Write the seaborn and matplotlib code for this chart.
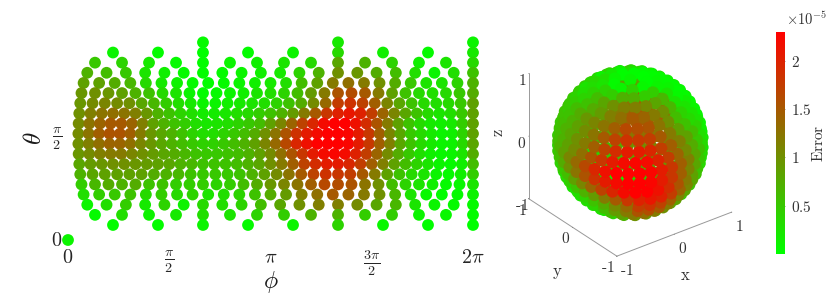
#!/usr/bin/env python
"""Interpolation error on a sphere, flat (phi, theta) view and 3D view."""

import matplotlib.pyplot as plt
import numpy as np
import pandas as pd
import seaborn as sns
from matplotlib.cm import ScalarMappable
from matplotlib.colors import LinearSegmentedColormap, Normalize

# ring latitudes, top of the flat plot first
ring_theta = [3.065, 2.907, 2.750, 2.593, 2.435, 2.278, 2.121, 1.963, 1.806, 1.649,
              1.491, 1.334, 1.177, 1.019, 0.862, 0.705, 0.547, 0.390, 0.233]

# longitudes, one list per ring size
phi_3 = [2.094, 4.189, 6.283]
phi_9 = [.698, 1.396, 2.094, 2.793, 3.491, 4.189, 4.887, 5.585, 6.283]
phi_15 = [.419, .838, 1.257, 1.676, 2.094, 2.513, 2.932, 3.351, 3.770, 4.189, 4.608, 5.027, 5.445, 5.864, 6.283]
phi_21 = [.299, .598, .898, 1.197, 1.496, 1.795, 2.094, 2.394, 2.693, 2.992, 3.291, 3.590, 3.890, 4.189, 4.488,
          4.787, 5.086, 5.386, 5.685, 5.984, 6.283]
phi_26 = [.242, .483, .725, .967, 1.208, 1.450, 1.692, 1.933, 2.175, 2.417, 2.658, 2.900, 3.142, 3.383, 3.625,
          3.867, 4.108, 4.350, 4.592, 4.833, 5.075, 5.317, 5.558, 5.800, 6.042, 6.283]
phi_30 = [.209, .419, .628, .838, 1.047, 1.257, 1.466, 1.676, 1.885, 2.094, 2.304, 2.513, 2.723, 2.932, 3.142,
          3.351, 3.560, 3.770, 3.979, 4.189, 4.398, 4.608, 4.817, 5.027, 5.236, 5.445, 5.655, 5.864, 6.074, 6.283]
phi_33 = [.190, .381, .571, .762, .952, 1.142, 1.333, 1.523, 1.714, 1.904, 2.094, 2.285, 2.475, 2.666, 2.856,
          3.046, 3.237, 3.427, 3.618, 3.808, 3.998, 4.189, 4.379, 4.570, 4.760, 4.951, 5.141, 5.331, 5.522, 5.712,
          5.903, 6.093, 6.283]
phi_36 = [.175, .349, .524, .698, .873, 1.047, 1.222, 1.396, 1.571, 1.745, 1.920, 2.094, 2.269, 2.443, 2.618,
          2.793, 2.967, 3.142, 3.316, 3.491, 3.665, 3.840, 4.014, 4.189, 4.363, 4.538, 4.712, 4.887, 5.061, 5.236,
          5.411, 5.585, 5.760, 5.934, 6.109, 6.283]
phi_38 = [.165, .331, .496, .661, .827, .992, 1.157, 1.323, 1.488, 1.653, 1.819, 1.984, 2.149, 2.315, 2.480,
          2.645, 2.811, 2.976, 3.142, 3.307, 3.472, 3.638, 3.803, 3.968, 4.134, 4.299, 4.464, 4.630, 4.795, 4.960,
          5.126, 5.291, 5.456, 5.622, 5.787, 5.952, 6.118, 6.283]
phi_39 = [.161, .322, .483, .644, .806, .967, 1.128, 1.289, 1.450, 1.611, 1.772, 1.933, 2.094, 2.256, 2.417,
          2.578, 2.739, 2.900, 3.061, 3.222, 3.383, 3.544, 3.706, 3.867, 4.028, 4.189, 4.350, 4.511, 4.672, 4.833,
          4.994, 5.155, 5.317, 5.478, 5.639, 5.800, 5.961, 6.122, 6.283]
ring_phi = [phi_3, phi_9, phi_15, phi_21, phi_26, phi_30, phi_33, phi_36, phi_38, phi_39,
            phi_39, phi_38, phi_36, phi_33, phi_30, phi_26, phi_21, phi_15, phi_9]

# error, in units of 1e-5
err_00 = [.05, .2, .1]
err_01 = [.1, .03, 0, .03, .1, .35, .15, .05, .2]
err_02 = [.5, .4, .2, .05, .02, .1, .15, .25, .35, .8, .7, .4, .15, .25, .35]
err_03 = [.7, .6, .5, .25, .15, .05, .02, .05, .1, .15, .2, .4, .7, 1.0, .95, .75, .6, .3, .1, .3, .55]
err_04 = [.85, .85, .75, .65, .35, .2, .12, .05, .02, .05, .1, .15, .2, .3, .6, .85, 1.2, 1.3, 1.2, 1.0, .75, .5,
          .25, .25, .4, .7]
err_05 = [.95, 1.0, .95, .85, .7, .55, .35, .25, .1, .03, .05, .1, .15, .25, .3, .4, .6, .9, 1.2, 1.55, 1.6, 1.5,
          1.2, .85, .55, .35, .3, .35, .5, .75]
err_06 = [.95, 1.05, 1.1, 1.05, 1.0, .8, .65, .45, .3, .2, .1, .1, .15, .2, .25, .3, .4, .55, .75, 1.05, 1.35, 1.75,
          1.85, 1.7, 1.45, 1.1, .8, .55, .35, .3, .35, .5, .85]
err_07 = [1.0, 1.15, 1.25, 1.3, 1.25, 1.15, .95, .7, .55, .4, .3, .18, .18, .22, .3, .35, .45, .55, .7, .9, 1.2, 1.5,
          1.8, 2.0, 2.1, 2.0, 1.75, 1.4, 1.1, .8, .55, .35, .25, .3, .5, .85]
err_08 = [1.05, 1.25, 1.4, 1.5, 1.5, 1.4, 1.15, .85, .7, .55, .45, .3, .22, .25, .3, .4, .5, .6, .85, 1.1, 1.4, 1.7,
          1.95, 2.2, 2.3, 2.3, 2.15, 1.9, 1.55, 1.2, .85, .55, .35, .2, .15, .2, .45, .85]
err_09 = [1.05, 1.25, 1.45, 1.55, 1.55, 1.45, 1.2, .95, .8, .7, .55, .4, .3, .3, .4, .5, .6, .75, 1.0, 1.25, 1.55,
          1.85, 2.05, 2.2, 2.3, 2.3, 2.25, 2.05, 1.8, 1.45, 1.1, .8, .5, .35, .2, .1, .15, .4, .85]
err_10 = [1.0, 1.15, 1.3, 1.4, 1.4, 1.3, 1.1, .95, .8, .7, .6, .5, .42, .42, .5, .6, .7, .85, 1.1, 1.35, 1.65, 1.95,
          2.15, 2.3, 2.3, 2.3, 2.25, 2.05, 1.8, 1.45, 1.15, .8, .55, .35, .2, .1, .12, .35, .8]
err_11 = [.95, 1.05, 1.15, 1.2, 1.2, 1.1, 1.0, .9, .8, .75, .65, .55, .5, .5, .55, .6, .7, .85, 1.05, 1.3, 1.55, 1.8,
          2.05, 2.2, 2.25, 2.2, 2.0, 1.75, 1.4, 1.05, .75, .5, .3, .15, .08, .1, .25, .75]
err_12 = [.8, .9, .95, 1.0, 1.0, .95, .9, .85, .8, .7, .65, .55, .55, .55, .6, .7, .8, 1.0, 1.2, 1.45, 1.7, 1.9,
          2.05, 2.05, 1.95, 1.75, 1.45, 1.15, .85, .6, .4, .25, .1, .05, .15, .6]
err_13 = [.7, .8, .85, .85, .85, .85, .75, .7, .65, .55, .5, .5, .5, .55, .7, .85, 1.05, 1.25, 1.5, 1.7, 1.85, 1.8,
          1.75, 1.5, 1.2, .85, .55, .35, .25, .1, .05, .15, .45]
err_14 = [.45, .65, .75, .7, .75, .55, .55, .45, .45, .45, .4, .45, .6, .75, .95, 1.1, 1.25, 1.45, 1.65, 1.6, 1.55,
          1.25, 1.0, .6, .4, .25, .15, .05, .08, .25]
err_15 = [.3, .45, .5, .55, .35, .45, .35, .4, .25, .3, .4, .55, .75, .9, 1.15, 1.3, 1.5, 1.4, 1.2, 1.0, .65, .25,
          .07, .02, .05, .12]
err_16 = [.1, .3, .45, .2, .4, .12, .35, .3, .4, .6, .8, 1.0, 1.15, 1.15, 1.05, .8, .65, .25, .1, .05, .05]
err_17 = [.05, .3, .12, .2, .3, .25, .4, .45, .7, .7, .45, .45, .1, .08, .03]
err_18 = [.03, .03, .1, .05, .1, .4, .08, .02, 0]
ring_err = [err_00, err_01, err_02, err_03, err_04, err_05, err_06, err_07, err_08, err_09,
            err_10, err_11, err_12, err_13, err_14, err_15, err_16, err_17, err_18]

# the single point at the pole
pole_theta = 0.0
pole_phi = 0.0
pole_err = 0.1

phi_ticks = [0, 1.5708, 3.1416, 4.7124, 6.2832]
phi_labels = [r"$0$", r"$\frac{\pi}{2}$", r"$\pi$", r"$\frac{3\pi}{2}$", r"$2\pi$"]
theta_ticks = [0, 1.5708]
theta_labels = [r"$0$", r"$\frac{\pi}{2}$"]
sphere_ticks = [-1, 0, 1]
sphere_labels = [r"$\text{-}1$", r"$0$", r"$1$"]
cbar_ticks = [0.5, 1, 1.5, 2]
cbar_labels = [r"$0.5$", r"$1$", r"$1.5$", r"$2$"]
err_max = 2.3

W, H = 830, 293


def build_frame():
    """Flatten the rings into one table."""
    rows = [{"theta": pole_theta, "phi": pole_phi, "error": pole_err}]
    for theta, phis, errs in zip(ring_theta, ring_phi, ring_err, strict=True):
        for phi, err in zip(phis, errs, strict=True):
            rows.append({"theta": theta, "phi": phi, "error": err})
    df = pd.DataFrame(rows)
    df["x"] = np.sin(df["theta"]) * np.cos(df["phi"])
    df["y"] = np.sin(df["theta"]) * np.sin(df["phi"])
    df["z"] = np.cos(df["theta"])
    return df


def px_axes(fig, left, top, right, bottom, **kwargs):
    """Add axes from pixel edges, y counted from the top."""
    return fig.add_axes([left / W, 1 - bottom / H, (right - left) / W, (bottom - top) / H], **kwargs)


def plot_flat(fig, df, cmap, norm):
    ax = px_axes(fig, 68, 37.4, 473, 240)
    sns.scatterplot(data=df, x="phi", y="theta", hue="error", palette=cmap, hue_norm=norm,
                    s=72, linewidth=0, legend=False, clip_on=False, ax=ax)
    ax.set_xlim(0, 6.2832)
    ax.set_ylim(0, 3.1416)
    sns.despine(ax=ax, left=True, bottom=True)
    ax.set_xticks(phi_ticks, phi_labels, fontsize=14.5)
    ax.set_yticks(theta_ticks, [""] * len(theta_ticks))
    ax.tick_params(axis="x", direction="in", length=2.5, width=0.5, color="0.4", pad=6, labelcolor="0.15")
    ax.tick_params(axis="y", length=0)
    for tick, label in zip(theta_ticks, theta_labels):
        ax.annotate(label, (0, tick), xytext=(-4, 0), textcoords="offset points", ha="right", va="center",
                    fontsize=14.5, color="0.15", annotation_clip=False)
    ax.set_xlabel(r"$\phi$", fontsize=17, labelpad=-7, color="0.1")
    ax.set_ylabel(r"$\theta$", fontsize=18, labelpad=12, color="0.1")
    return ax


def plot_sphere(fig, df, cmap, norm):
    ax = px_axes(fig, 507, 26, 747, 266, projection="3d", proj_type="ortho")
    ax.patch.set_alpha(0)
    ax.scatter(df["x"], df["y"], df["z"], c=df["error"], cmap=cmap, norm=norm, s=80, linewidth=0,
               depthshade=False, alpha=1)
    ax.view_init(elev=30, azim=-127.5)
    ax.set_box_aspect((1, 1, 1), zoom=1.014)
    ax.set_xlim(-1, 1)
    ax.set_ylim(-1, 1)
    ax.set_zlim(-1, 1)
    ax.grid(False)
    for axis, pad, align in ((ax.xaxis, -4.5, "left"), (ax.yaxis, -6, "right"), (ax.zaxis, -5, "center")):
        axis.set_pane_color((1, 1, 1, 0))
        axis.pane.set_edgecolor((1, 1, 1, 0))
        axis.line.set_color("0.6")
        axis.line.set_linewidth(0.7)
        axis._axinfo["tick"]["inward_factor"] = 0.02
        axis._axinfo["tick"]["outward_factor"] = 0.0
        axis._axinfo["tick"]["linewidth"] = {True: 0.4, False: 0.4}
        axis._axinfo["tick"]["color"] = "0.6"
        axis.set_ticks(sphere_ticks, sphere_labels, ha=align)
        axis.set_tick_params(labelsize=11, pad=pad, labelcolor="0.2")
    # axis titles sit where the reference has them, mplot3d would slant them
    fig.text(685 / W, 1 - 275 / H, r"$\mathrm{x}$", fontsize=12, color="0.2", ha="center", va="center")
    fig.text(557 / W, 1 - 272 / H, r"$\mathrm{y}$", fontsize=12, color="0.2", ha="center", va="center")
    fig.text(498 / W, 1 - 133 / H, r"$\mathrm{z}$", fontsize=12, color="0.2", ha="center", va="center", rotation=90)
    return ax


def plot_colorbar(fig, cmap, norm):
    cax = px_axes(fig, 776, 32, 785, 254)
    cbar = fig.colorbar(ScalarMappable(norm=norm, cmap=cmap), cax=cax)
    cbar.outline.set_linewidth(0)
    cbar.set_ticks(cbar_ticks, labels=cbar_labels)
    cbar.ax.tick_params(direction="in", length=2, width=0.5, color="0.4", labelsize=11, pad=4, labelcolor="0.2")
    cbar.set_label(r"$\mathrm{Error}$", fontsize=11, labelpad=0, color="0.2")
    cax.text(1.1, 1.02, r"$\times 10^{-5}$", transform=cax.transAxes, fontsize=10.5, color="0.2", va="bottom", ha="left")


def main():
    sns.set_theme(style="white")
    plt.rcParams["mathtext.fontset"] = "cm"
    cmap = LinearSegmentedColormap.from_list("green_red", [(0, 1, 0), (1, 0, 0)])
    norm = Normalize(0, err_max)
    df = build_frame()
    fig = plt.figure(figsize=(W / 100, H / 100), dpi=100)
    plot_flat(fig, df, cmap, norm)
    plot_sphere(fig, df, cmap, norm)
    plot_colorbar(fig, cmap, norm)
    fig.savefig("out.png", dpi=100)
    plt.close(fig)


if __name__ == "__main__":
    main()
